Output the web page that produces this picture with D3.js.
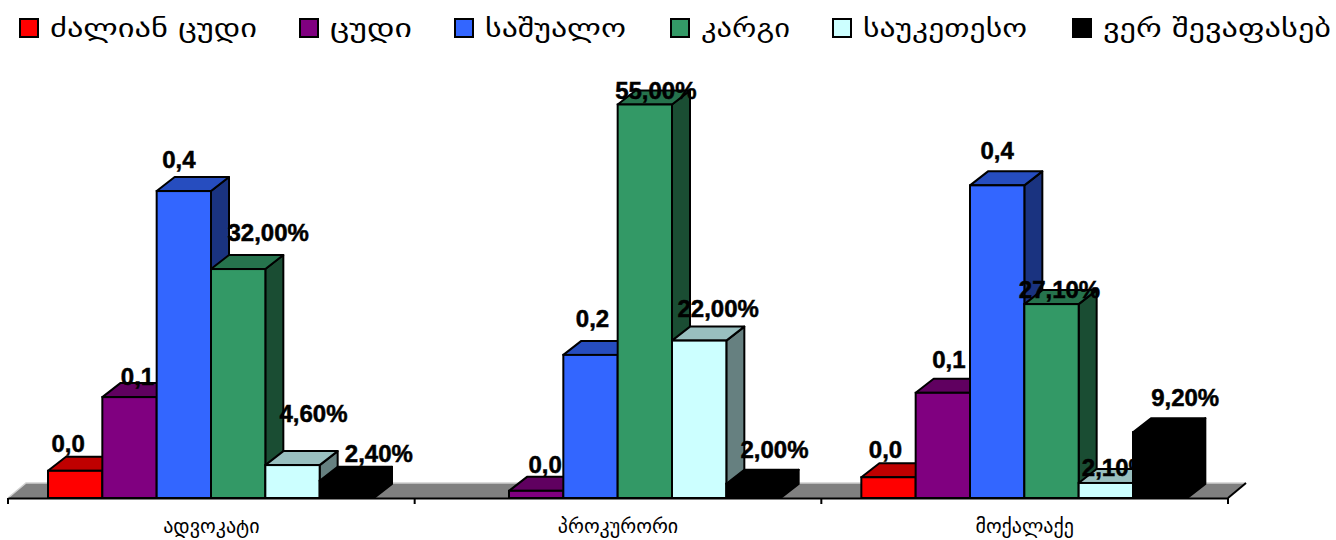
<!DOCTYPE html>
<html>
<head>
<meta charset="utf-8">
<script src="https://cdnjs.cloudflare.com/ajax/libs/d3/7.8.5/d3.min.js"></script>
<style>
    html, body { margin: 0; padding: 0; background: #fff; overflow: hidden; }
    svg { display: block; }
    .geo { font-family: "DejaVu Sans"; fill: #000; }
    .val { font-family: "Liberation Sans"; font-weight: bold; font-size: 24px; fill: #000; stroke: #000; stroke-width: 0.5px; text-anchor: middle; }
</style>
</head>
<body>
<div id="chart"></div>
<script>
// data
const categories = ["ადვოკატი", "პროკურორი", "მოქალაქე"];
const seriesNames = ["ძალიან ცუდი", "ცუდი", "საშუალო", "კარგი", "საუკეთესო", "ვერ შევაფასებ"];
const veryBad = [0.038, null, 0.029];
const bad = [0.141, 0.01, 0.147];
const average = [0.429, 0.2, 0.437];
const good = [0.32, 0.55, 0.271];
const best = [0.046, 0.22, 0.021];
const cannotSay = [0.024, 0.02, 0.092];
const seriesValues = [veryBad, bad, average, good, best, cannotSay];
const colors = ["#ff0000", "#800080", "#3366ff", "#339966", "#ccffff", "#000000"];

// labels were dragged by hand in the original, so they get their own nudges [dx, dy] per category
const labelNudges = [
    [[-7, -19], null, [-3, -19]],
    [[8, -12], [9, -18], [6, -25]],
    [[-5, -23], [2, -28], [0, -26]],
    [[30, -28], [11, -6], [8, -6]],
    [[21, -43], [19, -24], [10, -7]],
    [[32, -19], [21, -26], [25, -26]],
];

// legend layout: swatch x, text width
const legendX = [20, 300, 455, 671, 833, 1073];
const legendTextW = [207, 82, 141, 89, 164, 228];

const w = 1336, h = 540;
const depthX = 18, depthY = -14;
const floorDepthY = -15;
const baseY = 498;

const svg = d3.select("#chart").append("svg").attr("width", w).attr("height", h);

const x0 = d3.scaleBand().domain(categories).range([8, 1228]);
const x1 = d3.scaleBand().domain(seriesNames).range([40, 366]);
const y = d3.scaleLinear().domain([0, 0.55]).range([baseY, 104.5]);

const pct = v => d3.format(".2f")(v * 100).replace(".", ",") + "%";
const short = v => d3.format(".1f")(v).replace(".", ",");
// first three series kept a number format without percent
const fmt = i => i < 3 ? short : pct;

// floor
const fl = x0.range()[0], fr = x0.range()[1];
svg.append("path")
    .attr("d", d3.line()([[fl, baseY], [fl + depthX, baseY + floorDepthY], [fr + depthX, baseY + floorDepthY], [fr, baseY]]) + "Z")
    .attr("fill", "#808080");
svg.append("path")
    .attr("d", d3.line()([[fl, baseY], [fl + depthX, baseY + floorDepthY], [fr + depthX, baseY + floorDepthY]]))
    .attr("fill", "none").attr("stroke", "#d0d0d0").attr("stroke-width", 1.5);
svg.append("line")
    .attr("x1", fr).attr("y1", baseY).attr("x2", fr + depthX).attr("y2", baseY + floorDepthY)
    .attr("stroke", "#000").attr("stroke-width", 2);

// axis, ticks sit on band edges so the tick lines are added after
const axis = d3.axisBottom(x0).tickSize(0).tickPadding(21);
const axisG = svg.append("g").attr("transform", "translate(0," + baseY + ")").call(axis);
axisG.select(".domain").attr("stroke", "#000").attr("stroke-width", 2);
axisG.selectAll("text").attr("class", "geo").style("font-size", "20px").style("font-family", "DejaVu Sans");
axisG.selectAll("line.edge")
    .data(categories.map(c => x0(c)).concat([fr]))
    .enter().append("line").attr("class", "edge")
    .attr("x1", d => d).attr("x2", d => d).attr("y1", 0).attr("y2", 6)
    .attr("stroke", "#000").attr("stroke-width", 2);

// bars, one series at a time so a later bar can hide an earlier label
seriesNames.forEach(function (name, i) {
    const col = d3.color(colors[i]);
    const top = d3.rgb(col.r * 0.75, col.g * 0.75, col.b * 0.75);
    const side = d3.rgb(col.r * 0.5, col.g * 0.5, col.b * 0.5);
    const g = svg.append("g").attr("class", "series");
    const rows = categories.map((c, k) => ({ c: c, k: k, v: seriesValues[i][k] })).filter(d => d.v !== null);
    const bx = d => x0(d.c) + x1(name);
    const bw = x1.bandwidth();

    g.selectAll("path.side").data(rows).enter().append("path").attr("class", "side")
        .attr("d", d => d3.line()([[bx(d) + bw, y(d.v)], [bx(d) + bw + depthX, y(d.v) + depthY],
            [bx(d) + bw + depthX, baseY + depthY], [bx(d) + bw, baseY]]) + "Z")
        .attr("fill", side).attr("stroke", "#000").attr("stroke-width", 2).attr("stroke-linejoin", "round");
    g.selectAll("path.top").data(rows).enter().append("path").attr("class", "top")
        .attr("d", d => d3.line()([[bx(d), y(d.v)], [bx(d) + depthX, y(d.v) + depthY],
            [bx(d) + bw + depthX, y(d.v) + depthY], [bx(d) + bw, y(d.v)]]) + "Z")
        .attr("fill", top).attr("stroke", "#000").attr("stroke-width", 2).attr("stroke-linejoin", "round");
    g.selectAll("rect").data(rows).enter().append("rect")
        .attr("x", bx).attr("y", d => y(d.v)).attr("width", bw).attr("height", d => baseY - y(d.v))
        .attr("fill", col).attr("stroke", "#000").attr("stroke-width", 2);
    g.selectAll("text").data(rows).enter().append("text").attr("class", "val")
        .attr("x", d => bx(d) + bw / 2 + labelNudges[i][d.k][0])
        .attr("y", d => y(d.v) + labelNudges[i][d.k][1])
        .text(d => fmt(i)(d.v));
});

// legend
const legend = svg.append("g").selectAll("g").data(seriesNames).enter().append("g");
legend.append("rect")
    .attr("x", (d, i) => legendX[i]).attr("y", 19).attr("width", 18).attr("height", 18)
    .attr("fill", (d, i) => colors[i]).attr("stroke", "#000").attr("stroke-width", 2);
legend.append("text").attr("class", "geo")
    .attr("x", (d, i) => legendX[i] + 30).attr("y", 37)
    .attr("textLength", (d, i) => legendTextW[i]).attr("lengthAdjust", "spacingAndGlyphs")
    .style("font-size", "26px")
    .text(d => d);
</script>
</body>
</html>
